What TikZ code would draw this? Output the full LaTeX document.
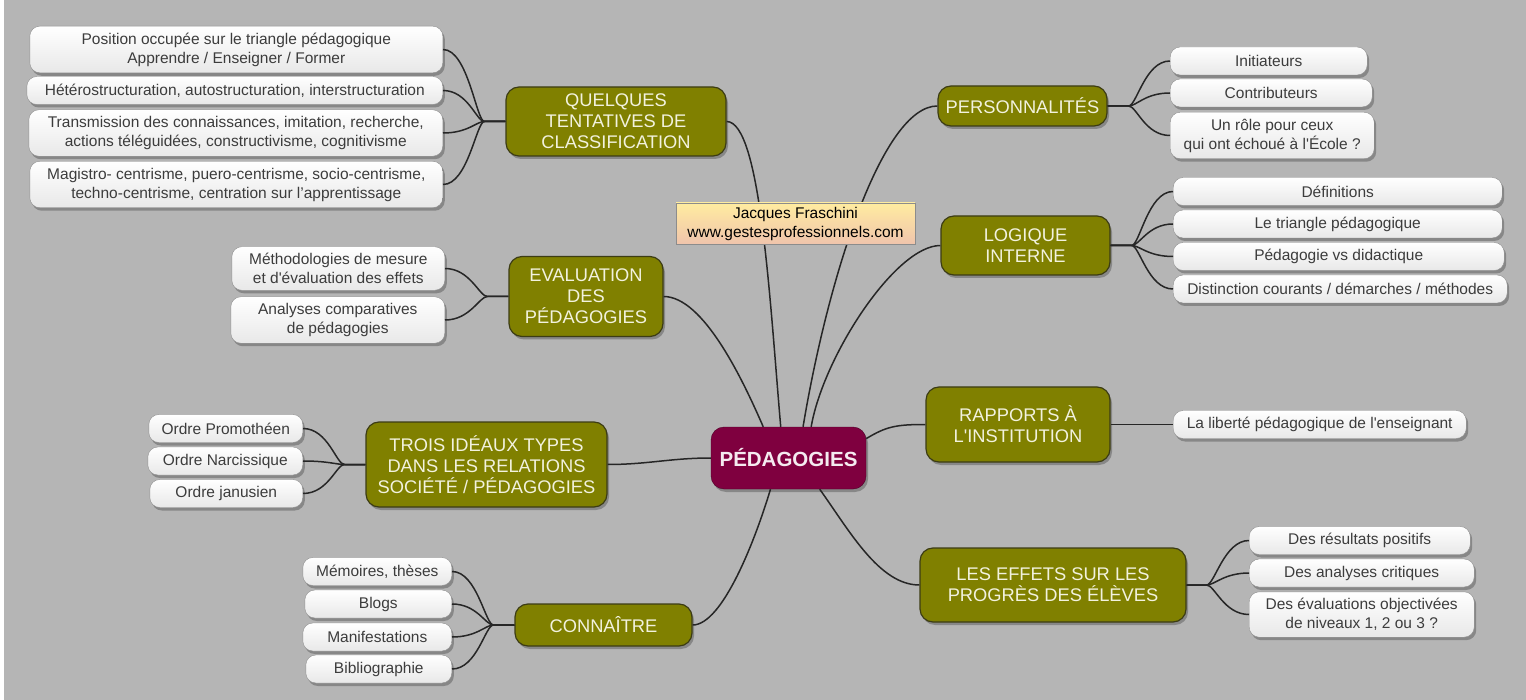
\documentclass[tikz,border=0pt]{standalone}
\usepackage{fontspec}
\setmainfont{Liberation Sans}
\usepackage{tikz}
\usetikzlibrary{shadows}
\definecolor{MapBackground}{RGB}{181, 181, 181}
\definecolor{BranchOlive}{RGB}{128, 128, 0}
\definecolor{BranchBorder}{RGB}{60, 60, 20}
\definecolor{BranchText}{RGB}{242, 242, 222}
\definecolor{CenterWine}{RGB}{127, 0, 63}
\definecolor{LeafText}{RGB}{60, 60, 60}
\definecolor{LeafBorder}{RGB}{140, 140, 140}
\definecolor{NoteTop}{RGB}{255, 236, 160}
\definecolor{NoteBottom}{RGB}{240, 196, 172}

\begin{document}
\begin{tikzpicture}[x=1pt, y=-1pt]
        \tikzset{
            soft_shadow/.style={drop shadow={shadow xshift=2pt, shadow yshift=-3pt, opacity=0.25, fill=black}},
            center_box/.style={rectangle, rounded corners=13pt, draw=CenterWine!60!black, fill=CenterWine, text=white!92!CenterWine, font=\fontsize{20.5}{24}\selectfont\bfseries, soft_shadow},
            branch_box/.style={rectangle, rounded corners=13pt, draw=BranchBorder, line width=1.2pt, fill=BranchOlive, text=BranchText, align=center, font=\fontsize{18.3}{21}\selectfont, soft_shadow},
            leaf_box/.style={rectangle, rounded corners=10pt, draw=LeafBorder, top color=white, bottom color=black!9, text=LeafText, align=center, inner ysep=6.5pt, minimum height=28pt, font=\fontsize{15.5}{19}\selectfont, soft_shadow},
            note_box/.style={rectangle, draw=black!45, top color=NoteTop, bottom color=NoteBottom, align=center, font=\fontsize{15.5}{19}\selectfont},
            link/.style={draw=black!85, line width=1.5pt}
        }

        % background
        \useasboundingbox (0,0) rectangle (1526,700);
        \fill[white] (0,0) rectangle (4,700);
        \fill[MapBackground] (4,0) rectangle (1526,700);

        % centre
        \node[center_box, minimum width=155pt, minimum height=62pt] (ped) at (788.5,458) {PÉDAGOGIES};

        % branches on the left
        \node[branch_box, minimum width=220pt, minimum height=69pt] (quel) at (616,121.5) {QUELQUES\\TENTATIVES DE\\CLASSIFICATION};
        \node[branch_box, minimum width=154pt, minimum height=80pt] (eval) at (586,296.5) {EVALUATION\\DES\\PÉDAGOGIES};
        \node[branch_box, minimum width=241pt, minimum height=85pt] (trois) at (486.5,464.5) {TROIS IDÉAUX TYPES\\DANS LES RELATIONS\\SOCIÉTÉ / PÉDAGOGIES};
        \node[branch_box, minimum width=177pt, minimum height=42pt] (conn) at (603.5,625) {CONNAÎTRE};

        % branches on the right
        \node[branch_box, minimum width=169pt, minimum height=40pt] (perso) at (1022.5,106) {PERSONNALITÉS};
        \node[branch_box, minimum width=169pt, minimum height=59pt] (logi) at (1025.5,245.5) {LOGIQUE\\INTERNE};
        \node[branch_box, minimum width=184pt, minimum height=75pt] (rapp) at (1018,424.5) {RAPPORTS À\\L\textquotesingle INSTITUTION};
        \node[branch_box, minimum width=266pt, minimum height=74pt] (effe) at (1053,585) {LES EFFETS SUR LES\\PROGRÈS DES ÉLÈVES};

        % leaves, left side
        \node[leaf_box, minimum width=413pt, anchor=east] (quel1) at (443,49.5) {Position occupée sur le triangle pédagogique\\Apprendre / Enseigner / Former};
        \node[leaf_box, minimum width=416pt, anchor=east] (quel2) at (443,90.5) {Hétérostructuration, autostructuration, interstructuration};
        \node[leaf_box, minimum width=414pt, anchor=east] (quel3) at (443,133) {Transmission des connaissances, imitation, recherche,\\actions téléguidées,  constructivisme, cognitivisme};
        \node[leaf_box, minimum width=413pt, anchor=east] (quel4) at (443,184.5) {Magistro- centrisme, puero-centrisme, socio-centrisme,\\techno-centrisme, centration sur l’apprentissage};

        \node[leaf_box, minimum width=213pt, anchor=east] (eval1) at (445,268.5) {Méthodologies de mesure\\et d\textquotesingle évaluation des effets};
        \node[leaf_box, minimum width=214pt, anchor=east] (eval2) at (445,320) {Analyses comparatives\\de pédagogies};

        \node[leaf_box, minimum width=154pt, anchor=east] (trois1) at (303,428.5) {Ordre Promothéen};
        \node[leaf_box, minimum width=155pt, anchor=east] (trois2) at (303,461) {Ordre Narcissique};
        \node[leaf_box, minimum width=153pt, anchor=east] (trois3) at (303,493.5) {Ordre janusien};

        \node[leaf_box, minimum width=149pt, anchor=east] (conn1) at (452,571.5) {Mémoires, thèses};
        \node[leaf_box, minimum width=147pt, anchor=east] (conn2) at (452,604) {Blogs};
        \node[leaf_box, minimum width=149pt, anchor=east] (conn3) at (452,637) {Manifestations};
        \node[leaf_box, minimum width=146pt, anchor=east] (conn4) at (452,669) {Bibliographie};

        % leaves, right side
        \node[leaf_box, minimum width=197pt, anchor=west] (perso1) at (1170,61) {Initiateurs};
        \node[leaf_box, minimum width=202pt, anchor=west] (perso2) at (1170,93) {Contributeurs};
        \node[leaf_box, minimum width=204pt, anchor=west] (perso3) at (1170,135.5) {Un rôle pour ceux\\qui ont échoué à l\textquotesingle École ?};

        \node[leaf_box, minimum width=329pt, anchor=west] (logi1) at (1173,191.5) {Définitions};
        \node[leaf_box, minimum width=329pt, anchor=west] (logi2) at (1173,224) {Le triangle pédagogique};
        \node[leaf_box, minimum width=331pt, anchor=west] (logi3) at (1173,256.5) {Pédagogie vs didactique};
        \node[leaf_box, minimum width=334pt, anchor=west] (logi4) at (1173,289) {Distinction courants / démarches / méthodes};

        \node[leaf_box, minimum width=293pt, anchor=west] (rapp1) at (1173,424.5) {La liberté pédagogique de l\textquotesingle enseignant};

        \node[leaf_box, minimum width=221pt, anchor=west] (effe1) at (1249,540.5) {Des résultats positifs};
        \node[leaf_box, minimum width=225pt, anchor=west] (effe2) at (1249,573) {Des analyses critiques};
        \node[leaf_box, minimum width=225pt, anchor=west] (effe3) at (1249,614.5) {Des évaluations objectivées\\de niveaux 1, 2 ou 3 ?};

        % centre to branches
        \draw[link] (quel.east) .. controls +(34,0) and +(-11,-127) .. (ped.104);
        \draw[link] (eval.east) .. controls +(40,0) and +(-20,-46) .. (ped.129);
        \draw[link] (trois.east) .. controls +(40,0) and +(-40,0) .. (ped.west);
        \draw[link] (conn.east) .. controls +(30,0) and +(-15,50) .. (ped.-120);
        \draw[link] (ped.65) .. controls +(25,-150) and +(-55,0) .. (perso.west);
        \draw[link] (ped.54) .. controls +(12,-70) and +(-45,0) .. (logi.west);
        \draw[link] (ped.14) .. controls +(20,-12) and +(-30,0) .. (rapp.west);
        \draw[link] (ped.-45) .. controls +(30,42) and +(-40,0) .. (effe.west);

        % branches to leaves
        \draw[link] (quel.west) -- ++(-21,0) .. controls +(-8,0) and +(25,0) .. (quel1.east);
        \draw[link] (quel.west) -- ++(-21,0) .. controls +(-8,0) and +(25,0) .. (quel2.east);
        \draw[link] (quel.west) -- ++(-21,0) .. controls +(-8,0) and +(25,0) .. (quel3.east);
        \draw[link] (quel.west) -- ++(-21,0) .. controls +(-8,0) and +(25,0) .. (quel4.east);
        \draw[link] (eval.west) -- ++(-21,0) .. controls +(-8,0) and +(25,0) .. (eval1.east);
        \draw[link] (eval.west) -- ++(-21,0) .. controls +(-8,0) and +(25,0) .. (eval2.east);
        \draw[link] (trois.west) -- ++(-21,0) .. controls +(-8,0) and +(25,0) .. (trois1.east);
        \draw[link] (trois.west) -- ++(-21,0) .. controls +(-8,0) and +(25,0) .. (trois2.east);
        \draw[link] (trois.west) -- ++(-21,0) .. controls +(-8,0) and +(25,0) .. (trois3.east);
        \draw[link] (conn.west) -- ++(-21,0) .. controls +(-8,0) and +(25,0) .. (conn1.east);
        \draw[link] (conn.west) -- ++(-21,0) .. controls +(-8,0) and +(25,0) .. (conn2.east);
        \draw[link] (conn.west) -- ++(-21,0) .. controls +(-8,0) and +(25,0) .. (conn3.east);
        \draw[link] (conn.west) -- ++(-21,0) .. controls +(-8,0) and +(25,0) .. (conn4.east);
        \draw[link] (perso.east) -- ++(21,0) .. controls +(8,0) and +(-25,0) .. (perso1.west);
        \draw[link] (perso.east) -- ++(21,0) .. controls +(8,0) and +(-25,0) .. (perso2.west);
        \draw[link] (perso.east) -- ++(21,0) .. controls +(8,0) and +(-25,0) .. (perso3.west);
        \draw[link] (logi.east) -- ++(21,0) .. controls +(8,0) and +(-25,0) .. (logi1.west);
        \draw[link] (logi.east) -- ++(21,0) .. controls +(8,0) and +(-25,0) .. (logi2.west);
        \draw[link] (logi.east) -- ++(21,0) .. controls +(8,0) and +(-25,0) .. (logi3.west);
        \draw[link] (logi.east) -- ++(21,0) .. controls +(8,0) and +(-25,0) .. (logi4.west);
        \draw[link] (rapp.east) -- (rapp1.west);
        \draw[link] (effe.east) -- ++(20,0) .. controls +(8,0) and +(-25,0) .. (effe1.west);
        \draw[link] (effe.east) -- ++(20,0) .. controls +(8,0) and +(-25,0) .. (effe2.west);
        \draw[link] (effe.east) -- ++(20,0) .. controls +(8,0) and +(-25,0) .. (effe3.west);

        % author note, above the links
        \node[note_box, minimum width=239pt, minimum height=41pt] (note) at (795.5,223.5) {Jacques Fraschini\\www.gestesprofessionnels.com};

    \end{tikzpicture}
\end{document}
